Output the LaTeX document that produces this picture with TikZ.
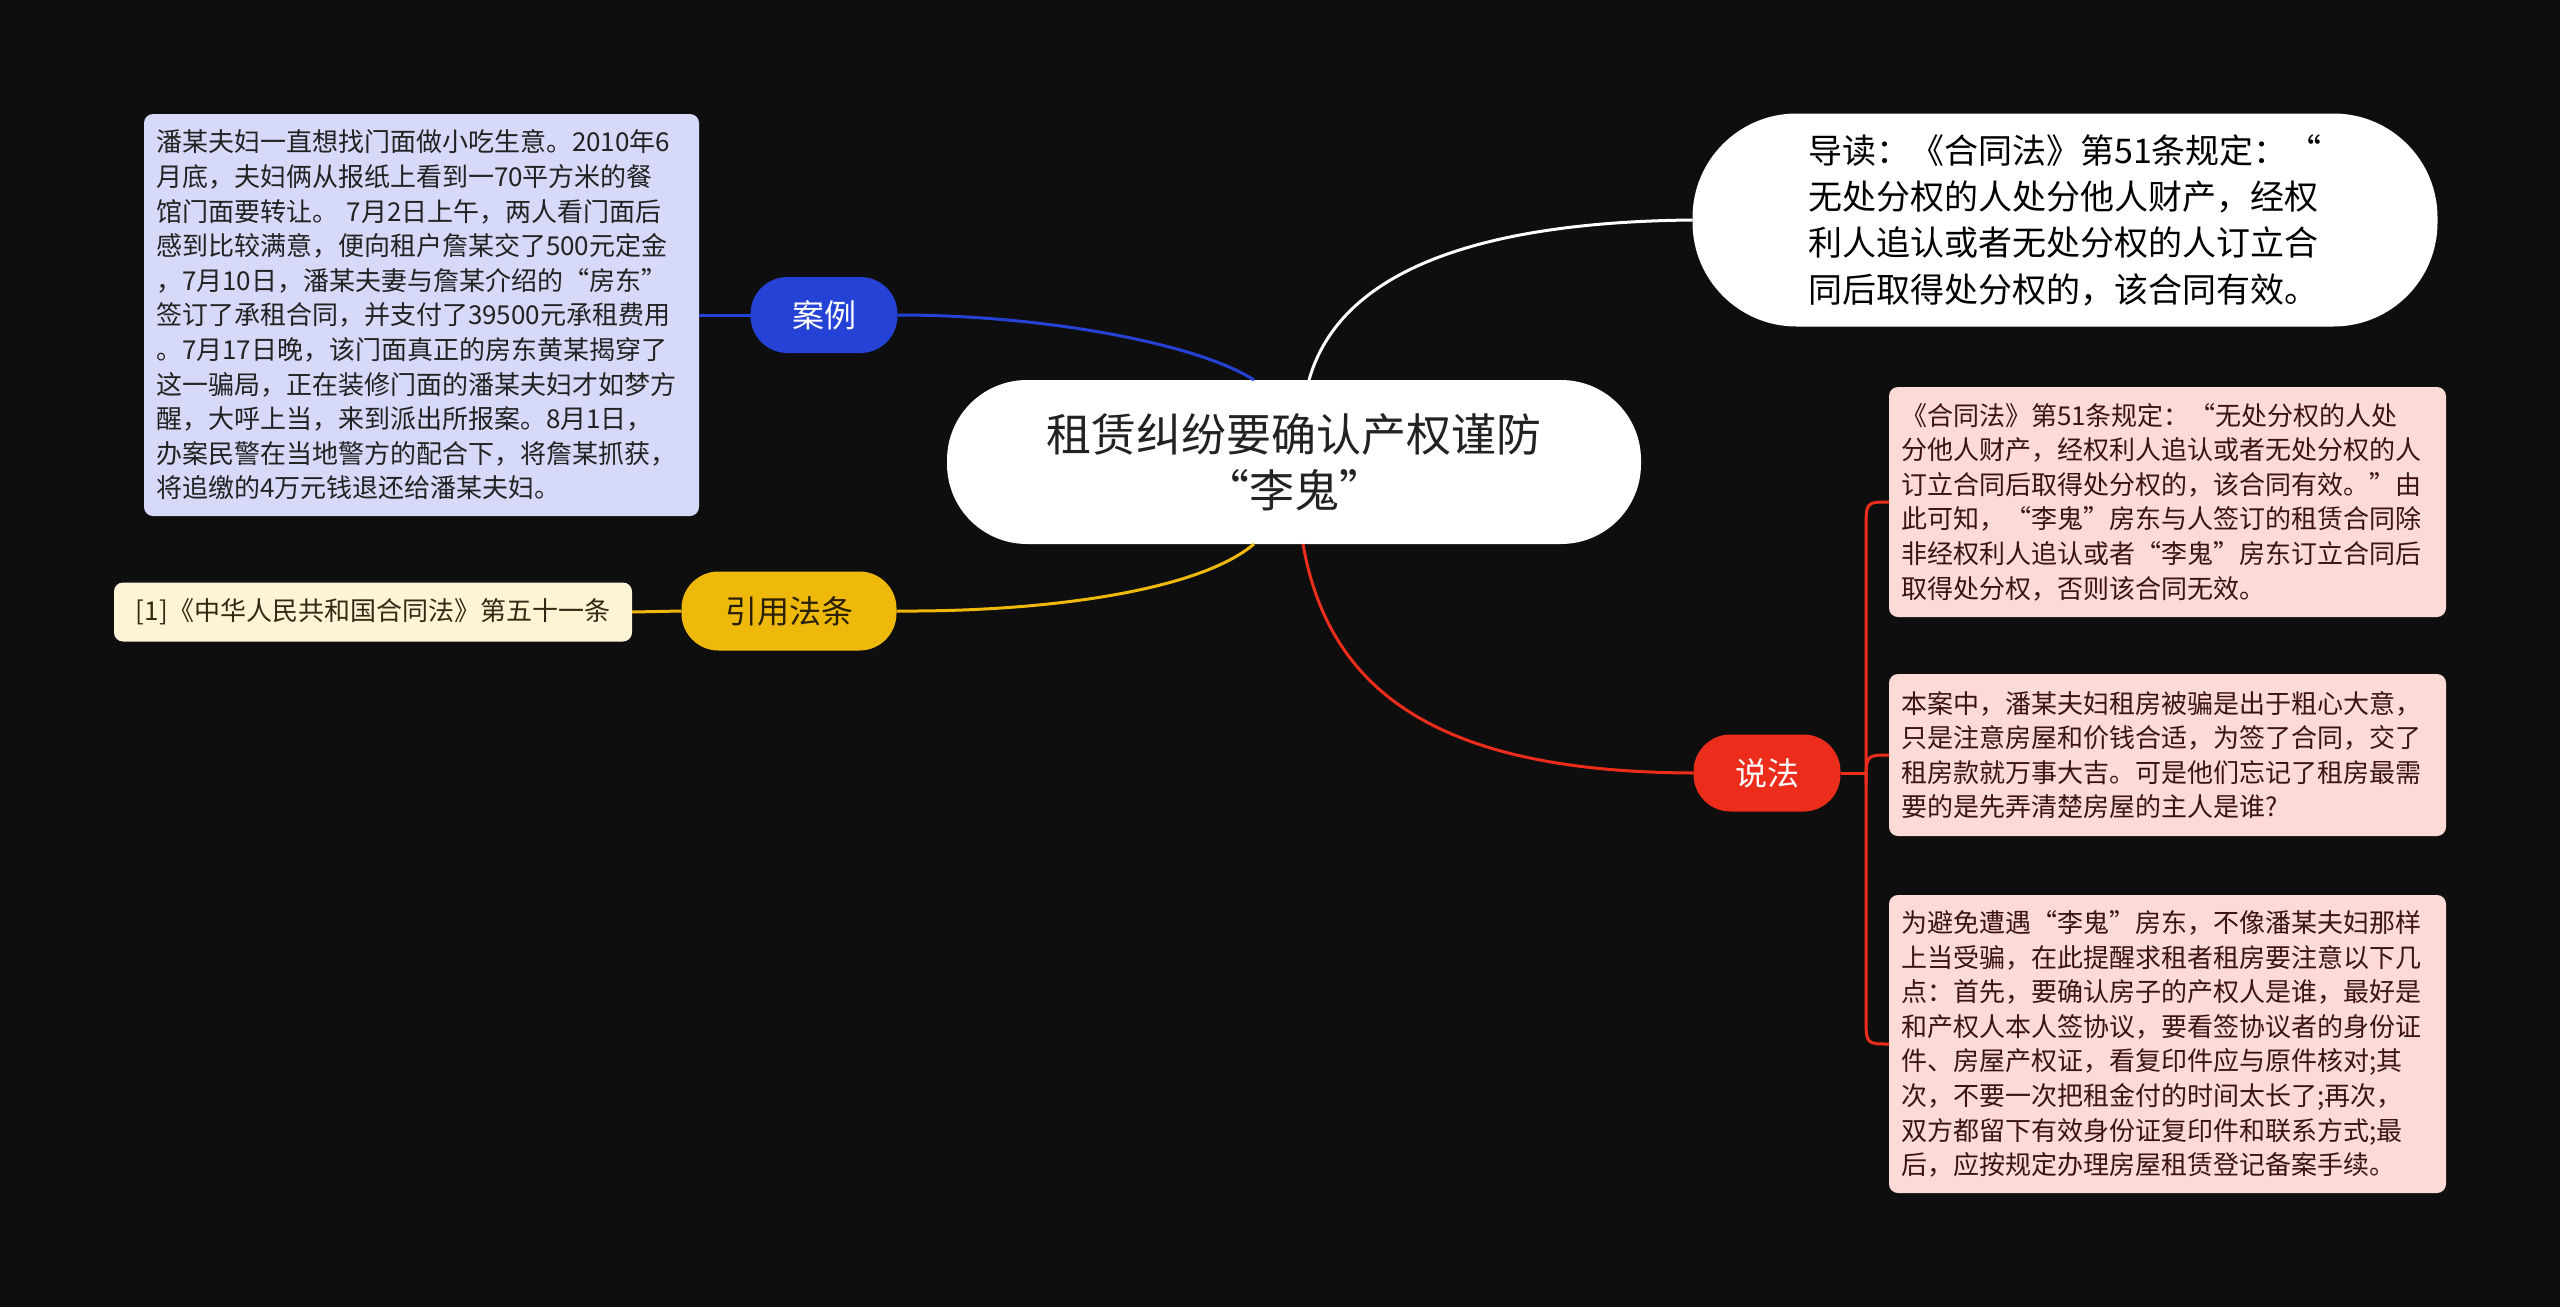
\documentclass[tikz,border=0pt]{standalone}
\usepackage{fontspec}
\setmainfont{Noto Sans CJK SC}
\usetikzlibrary{calc}
\definecolor{bgc}{RGB}{14,14,14}
\definecolor{lav}{RGB}{214,217,248}
\definecolor{cream}{RGB}{253,244,214}
\definecolor{pinkb}{RGB}{252,218,214}
\definecolor{gold}{RGB}{239,185,12}
\definecolor{blueb}{RGB}{36,66,214}
\definecolor{redb}{RGB}{237,45,28}
\definecolor{maroon}{RGB}{58,20,20}
\definecolor{darktxt}{RGB}{34,34,34}
\begin{document}
\begin{tikzpicture}[x=1pt,y=-1pt,
  every node/.style={inner sep=0pt,outer sep=0pt},
  detail/.style={rounded corners=9pt,align=left,font=\fontsize{26}{34.6}\selectfont},
  branch/.style={font=\fontsize{32}{38}\selectfont,minimum height=76pt,rounded corners=37pt},
  conn/.style={line width=3pt}
]
\useasboundingbox (0,0) rectangle (2560,1307);
\fill[bgc] (0,0) rectangle (2560,1307);

% center
\node[fill=white,rounded corners=80pt,minimum width=694pt,minimum height=164pt,align=center,
  text=darktxt,font=\fontsize{45}{56}\selectfont] (C) at (1294,462) {租赁纠纷要确认产权谨防\\“李鬼”};

% top right
\node[fill=white,rounded corners=104pt,minimum width=745pt,minimum height=213pt,align=left,
  text=black,font=\fontsize{34}{46.3}\selectfont] (D) at (2065,220) {导读：《合同法》第51条规定：“\\无处分权的人处分他人财产，经权\\利人追认或者无处分权的人订立合\\同后取得处分权的，该合同有效。};

% branches
\node[branch,fill=blueb,text=white,minimum width=147pt] (B) at (824,315) {案例};
\node[branch,fill=gold,text={rgb,255:red,40;green,32;blue,0},minimum width=215pt,minimum height=79pt] (Y) at (789,611) {引用法条};
\node[branch,fill=redb,text=white,minimum width=147pt,minimum height=77pt] (S) at (1767,773) {说法};

% left detail
\node[detail,fill=lav,text=darktxt,minimum width=555pt,minimum height=402pt,text width=531pt] (L) at (421.5,315) {潘某夫妇一直想找门面做小吃生意。2010年6\\月底，夫妇俩从报纸上看到一70平方米的餐\\馆门面要转让。~7月2日上午，两人看门面后\\感到比较满意，便向租户詹某交了500元定金\\，7月10日，潘某夫妻与詹某介绍的“房东”\\签订了承租合同，并支付了39500元承租费用\\。7月17日晚，该门面真正的房东黄某揭穿了\\这一骗局，正在装修门面的潘某夫妇才如梦方\\醒，大呼上当，来到派出所报案。8月1日，\\办案民警在当地警方的配合下，将詹某抓获，\\将追缴的4万元钱退还给潘某夫妇。};

\node[detail,fill=cream,text={rgb,255:red,50;green,40;blue,20},minimum width=518pt,minimum height=59pt,align=center] (R) at (373,612) {[1]《中华人民共和国合同法》第五十一条};

% right details
\node[detail,fill=pinkb,text=maroon,minimum width=557pt,minimum height=230pt,text width=533pt] (P1) at (2167.5,502) {《合同法》第51条规定：“无处分权的人处\\分他人财产，经权利人追认或者无处分权的人\\订立合同后取得处分权的，该合同有效。”由\\此可知，“李鬼”房东与人签订的租赁合同除\\非经权利人追认或者“李鬼”房东订立合同后\\取得处分权，否则该合同无效。};
\node[detail,fill=pinkb,text=maroon,minimum width=557pt,minimum height=162pt,text width=533pt] (P2) at (2167.5,755) {本案中，潘某夫妇租房被骗是出于粗心大意，\\只是注意房屋和价钱合适，为签了合同，交了\\租房款就万事大吉。可是他们忘记了租房最需\\要的是先弄清楚房屋的主人是谁?};
\node[detail,fill=pinkb,text=maroon,minimum width=557pt,minimum height=298pt,text width=533pt] (P3) at (2167.5,1044) {为避免遭遇“李鬼”房东，不像潘某夫妇那样\\上当受骗，在此提醒求租者租房要注意以下几\\点：首先，要确认房子的产权人是谁，最好是\\和产权人本人签协议，要看签协议者的身份证\\件、房屋产权证，看复印件应与原件核对;其\\次，不要一次把租金付的时间太长了;再次，\\双方都留下有效身份证复印件和联系方式;最\\后，应按规定办理房屋租赁登记备案手续。};

% connectors
\draw[conn,white] ($(C.north)+(15,0)$) .. controls (1340,270) and (1480,222) .. (D.west);
\draw[conn,blueb] (B.east) .. controls (1050,315) and (1200,345) .. ($(C.north)+(-40,0)$);
\draw[conn,blueb] (B.west) -- (L.east);
\draw[conn,gold] (Y.east) .. controls (1050,612) and (1200,590) .. ($(C.south)+(-40,0)$);
\draw[conn,gold] (Y.west) -- (R.east);
\draw[conn,redb] ($(C.south)+(9,0)$) .. controls (1330,700) and (1450,772) .. (S.west);

\coordinate (T) at (1866,773);
\draw[conn,redb] (S.east) -- (T);
\draw[conn,redb] (P1.west) .. controls (1866,502) .. (1866,530) -- (1866,1016) .. controls (1866,1044) .. (P3.west);
\draw[conn,redb] (1866,785) .. controls (1866,755) .. (P2.west);
\end{tikzpicture}
\end{document}
